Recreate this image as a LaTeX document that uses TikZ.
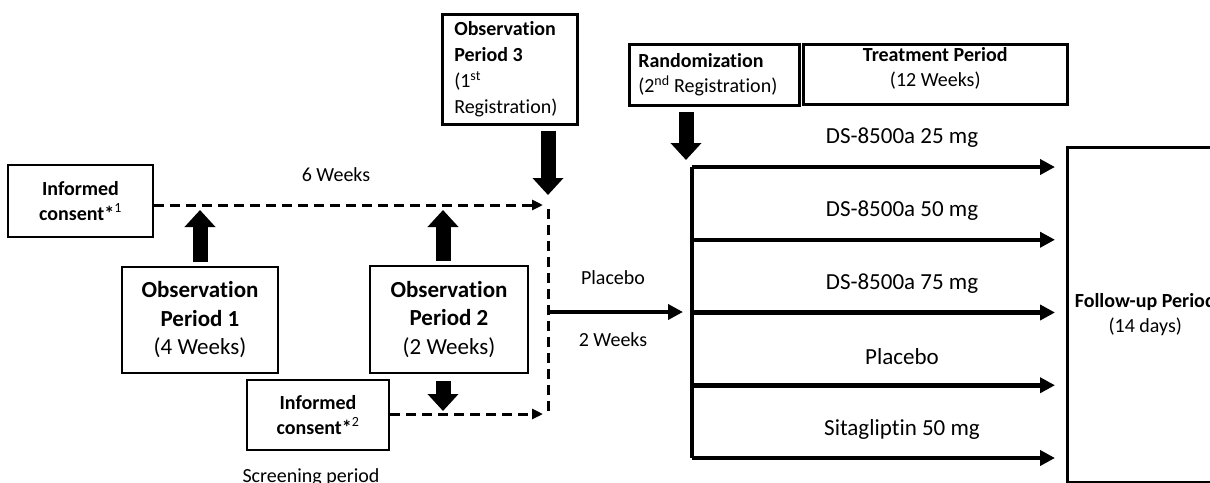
\documentclass[tikz,border=0pt]{standalone}
\usepackage{fontspec}
\setmainfont{Carlito}[Ligatures=NoCommon]
\usetikzlibrary{arrows.meta}
\usetikzlibrary{calc}
\usetikzlibrary{positioning}
\newcommand\txtS{\fontsize{20}{25}\selectfont}
\newcommand\txtL{\fontsize{23}{28.5}\selectfont}
\tikzset{
    period box/.style={
        draw,
        line width=2.5pt,
        align=center,
        inner sep=0,
        font=\txtS,
    },
    note box/.style={
        period box,
        align=flush left,
        inner xsep=12pt,
    },
    block arrow/.style={
        line width=15pt,
        -{Triangle[width=30pt,length=17pt]},
    },
    dash link/.style={
        line width=3pt,
        dash pattern=on 10pt off 6pt,
    },
    dash arrow/.style={
        dash link,
        -{Triangle[width=10pt,length=11pt]},
    },
    arm line/.style={
        line width=4.5pt,
    },
    arm arrow/.style={
        arm line,
        -{Triangle[width=15pt,length=15pt]},
    },
    plain label/.style={
        font=\txtS,
        inner sep=0,
    },
}

\begin{document}
\begin{tikzpicture}[x=1pt,y=-1pt]
    \useasboundingbox (0,0) rectangle (1210,482);
    \clip (0,0) rectangle (1210,482);

    % screening period
    \node[period box, minimum width=145, minimum height=72] (consentA) at (80.5,201)
        {\textbf{Informed}\\\textbf{consent*}\textsuperscript{1}};
    \node[period box, font=\txtL, minimum width=156, minimum height=106] (obsA) at (200,320)
        {\textbf{Observation}\\\textbf{Period 1}\\(4 Weeks)};
    \node[period box, font=\txtL, minimum width=158, minimum height=107] (obsB) at (449,319.5)
        {\textbf{Observation}\\\textbf{Period 2}\\(2 Weeks)};
    \node[period box, minimum width=142, minimum height=70] (consentB) at (318,415)
        {\textbf{Informed}\\\textbf{consent*}\textsuperscript{2}};
    \node[note box, font=\fontsize{20}{26}\selectfont, text width=111, minimum height=110, anchor=north west] (obsC) at (441,13)
        {\textbf{Observation}\\\textbf{Period 3}\\(1\textsuperscript{st}\\Registration)};
    \node[plain label] (sixWeeks) at (336,175) {6 Weeks};
    \node[plain label] (screening) at (311,477) {Screening period};

    % treatment period
    \node[note box, inner xsep=9pt, text width=152, minimum height=61, anchor=north west] (rand) at (628,43)
        {\textbf{Randomization}\\(2\textsuperscript{nd} Registration)};
    \node[period box, minimum width=264, minimum height=60, anchor=north west] (treat) at (802,43)
        {\textbf{Treatment Period}\\(12 Weeks)\\[-10pt]};
    \node[period box, minimum width=156, minimum height=335, anchor=north west] (follow) at (1066,146)
        {\textbf{Follow-up Period}\\(14 days)};

    \coordinate (dashTop) at (548,205);
    \coordinate (dashBot) at (548,414);
    \coordinate (branch) at (548,312);
    \coordinate (brTop) at (692,167);
    \coordinate (brBot) at (692,458);

    % dashed screening lines
    \draw[dash arrow, shorten >=5pt] (consentA.east |- dashTop) -- (dashTop);
    \draw[dash link] ([yshift=-4pt]dashTop) -- (dashBot);
    \draw[dash arrow, shorten >=5pt] (consentB.east |- dashBot) -- (dashBot);

    % block arrows
    \draw[block arrow, shorten <=4pt, shorten >=5pt] (obsA.north) -- (obsA.north |- dashTop);
    \draw[block arrow, shorten <=4pt, shorten >=5pt] ([xshift=-6pt]obsB.north) -- ([xshift=-6pt]obsB.north |- dashTop);
    \draw[block arrow, shorten <=7pt, shorten >=3pt] ([xshift=-6pt]obsB.south) -- ([xshift=-6pt]obsB.south |- dashBot);
    \draw[block arrow, shorten <=5pt, shorten >=10pt] (dashTop |- obsC.south) -- (dashTop);
    \draw[block arrow, shorten <=5pt, shorten >=7pt] ([xshift=-6pt]brTop |- rand.south) -- ([xshift=-6pt]brTop);

    % placebo run-in
    \draw[arm arrow, shorten >=9pt] (branch) -- (branch -| brTop);
    \node[plain label] (runLabel) at (613,278) {Placebo};
    \node[plain label] (runWeeks) at (613,340) {2 Weeks};

    % treatment arms
    \draw[arm line] (brTop) -- (brBot);
    \foreach \i/\arm in {0/DS-8500a 25 mg, 1/DS-8500a 50 mg, 2/DS-8500a 75 mg, 3/Placebo, 4/Sitagliptin 50 mg}
    {
        \coordinate (arm\i) at ($(brTop)+(0,72.75*\i)$);
        \draw[arm arrow, shorten >=11pt] (arm\i) -- (arm\i -| follow.west);
        \node[plain label, font=\txtL] (armLabel\i) at ($(arm\i)+(210,-29)$) {\arm};
    }

\end{tikzpicture}
\end{document}
